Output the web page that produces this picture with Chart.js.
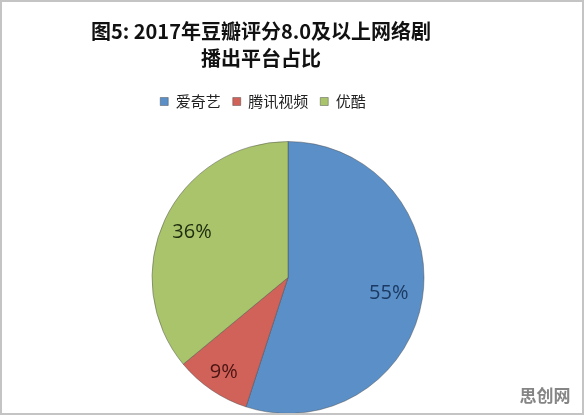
<!DOCTYPE html>
<html>
<head>
<meta charset="utf-8">
<script src="https://cdn.jsdelivr.net/npm/chart.js@4/dist/chart.umd.min.js"></script>
<style>
  html, body { margin: 0; padding: 0; background: #fff; overflow: hidden; }
  #wrap { width: 585px; height: 416px; position: relative; }
</style>
</head>
<body>
<div id="wrap"><canvas id="c" width="585" height="416"></canvas></div>
<script>
const titleLines = ['图5: 2017年豆瓣评分8.0及以上网络剧', '播出平台占比'];
const categories = ['爱奇艺', '腾讯视频', '优酷'];
const shares = [55, 9, 36];
const sliceColors = ['#5b8fc7', '#d1625a', '#a9c46b'];
const labelColors = ['#1b3a63', '#4a1512', '#1d2b0e'];
const watermark = '思创网';

const labelRadius = [0.75, 0.84, 0.78];

const shiftPlugin = {
  id: 'shiftBoxes',
  beforeInit(chart) {
    const lg = chart.legend;
    const origFit = lg.fit;
    lg.fit = function () { origFit.call(this); this.height += 22; };
  },
  afterLayout(chart) {
    const t = chart.titleBlock;
    if (t) { t.left -= 27; t.right -= 27; }
    const l = chart.legend;
    if (l) { l.left -= 25; l.right -= 25; }
  }
};

const labelPlugin = {
  id: 'pctLabels',
  afterDatasetsDraw(chart) {
    const ctx = chart.ctx;
    const meta = chart.getDatasetMeta(0);
    ctx.save();
    ctx.font = '20px "Open Sans", "Liberation Sans", sans-serif';
    ctx.textAlign = 'center';
    ctx.textBaseline = 'middle';
    meta.data.forEach((arc, i) => {
      const p = arc.getProps(['x', 'y', 'startAngle', 'endAngle', 'outerRadius'], true);
      const mid = (p.startAngle + p.endAngle) / 2;
      const r = p.outerRadius * labelRadius[i];
      ctx.fillStyle = labelColors[i];
      ctx.fillText(shares[i] + '%', p.x + Math.cos(mid) * r, p.y + Math.sin(mid) * r);
    });
    ctx.restore();
  },
  afterDraw(chart) {
    const ctx = chart.ctx;
    ctx.save();
    ctx.fillStyle = '#858585';
    ctx.font = 'bold 17px "Noto Sans CJK SC", sans-serif';
    ctx.textAlign = 'center';
    ctx.textBaseline = 'middle';
    ctx.fillText(watermark, 545, 396);
    ctx.strokeStyle = '#c4c4c4';
    ctx.lineWidth = 2;
    ctx.strokeRect(1, 1, 582, 413);
    ctx.restore();
  }
};

const bgPlugin = {
  id: 'bg',
  beforeDraw(chart) {
    const ctx = chart.ctx;
    ctx.save();
    ctx.fillStyle = '#ffffff';
    ctx.fillRect(0, 0, chart.width, chart.height);
    ctx.restore();
  }
};

new Chart(document.getElementById('c'), {
  type: 'pie',
  data: {
    labels: categories,
    datasets: [{
      data: shares,
      backgroundColor: sliceColors,
      borderColor: 'rgba(70,70,70,0.45)',
      borderWidth: 1
    }]
  },
  options: {
    responsive: false,
    animation: false,
    layout: { padding: { top: 0, left: 0, right: 9, bottom: 2 } },
    plugins: {
      tooltip: { enabled: false },
      title: {
        display: true,
        text: titleLines,
        color: '#111111',
        font: { family: '"Noto Sans CJK SC", sans-serif', size: 20, weight: 'bold', lineHeight: 1.35 },
        padding: { top: 18, bottom: 10 }
      },
      legend: {
        display: true,
        position: 'top',
        labels: {
          boxWidth: 8,
          boxHeight: 8,
          padding: 12,
          color: '#222222',
          font: { family: '"Noto Sans CJK SC", sans-serif', size: 15 }
        }
      }
    }
  },
  plugins: [bgPlugin, shiftPlugin, labelPlugin]
});
</script>
</body>
</html>
